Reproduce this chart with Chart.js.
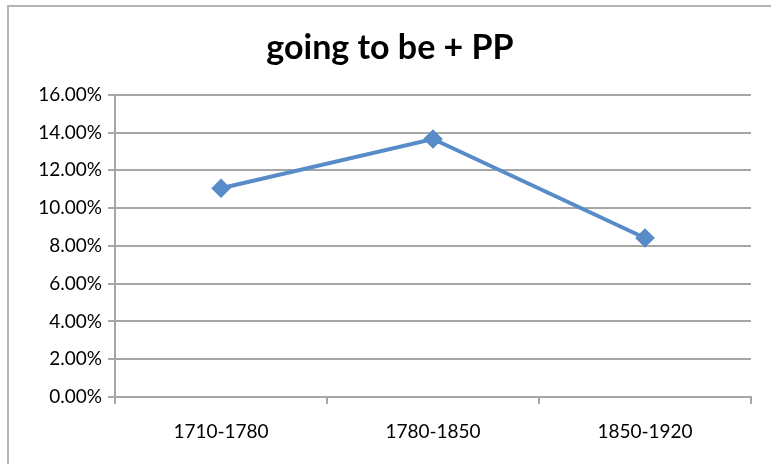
<!DOCTYPE html>
<html>
<head>
<meta charset="utf-8">
<script src="https://cdn.jsdelivr.net/npm/chart.js@4"></script>
<style>
  html, body { margin: 0; padding: 0; background: #fff; overflow: hidden; }
  #wrap { position: relative; width: 771px; height: 464px; }
  #frame {
    position: absolute; left: 7px; top: 5px; width: 820px; height: 520px;
    border: 2px solid #b4b4b4; box-sizing: border-box;
  }
  canvas { position: absolute; left: 0; top: 0; }
</style>
</head>
<body>
<div id="wrap">
  <div id="frame"></div>
  <canvas id="lineChart" width="771" height="464"></canvas>
</div>
<script>
const periods = ['1710-1780', '1780-1850', '1850-1920'];
const shares = [0.1105, 0.1366, 0.0842];
const yTicks = [0, 0.02, 0.04, 0.06, 0.08, 0.10, 0.12, 0.14, 0.16];

const lineBlue = '#588cc9';
const gridGrey = '#a6a6a6';
const fontFam = 'Lato, "Open Sans", sans-serif';

const ctx = document.getElementById('lineChart').getContext('2d');
new Chart(ctx, {
  type: 'line',
  data: {
    labels: periods,
    datasets: [{
      label: 'going to be + PP',
      data: shares,
      borderColor: lineBlue,
      backgroundColor: lineBlue,
      borderWidth: 4,
      pointStyle: 'rectRot',
      pointRadius: 7,
      pointHoverRadius: 7,
      tension: 0
    }]
  },
  options: {
    responsive: false,
    animation: false,
    // left padding shifts the title centre to match the frame
    layout: { padding: { left: 29, right: 20, top: 0, bottom: 0 } },
    plugins: {
      legend: { display: false },
      tooltip: { enabled: false },
      title: {
        display: true,
        text: 'going to be + PP',
        color: '#000',
        font: { family: fontFam, size: 34, weight: 'bold' },
        padding: { top: 28, bottom: 26 }
      }
    },
    scales: {
      x: {
        offset: true,
        grid: {
          offset: true,
          drawOnChartArea: false,
          drawTicks: true,
          tickLength: 7,
          color: gridGrey,
          lineWidth: 2
        },
        border: { display: true, color: gridGrey, width: 2 },
        ticks: {
          color: '#000',
          padding: 16,
          font: { family: fontFam, size: 19 }
        },
        afterFit: scale => { scale.height = 67; }
      },
      y: {
        min: 0,
        max: 0.16,
        afterBuildTicks: scale => { scale.ticks = yTicks.map(v => ({ value: v })); },
        grid: {
          color: gridGrey,
          lineWidth: 2,
          tickLength: 7
        },
        border: { display: true, color: gridGrey, width: 2 },
        ticks: {
          color: '#000',
          padding: 6,
          font: { family: fontFam, size: 19 },
          callback: v => (v * 100).toFixed(2) + '%'
        },
        afterFit: scale => { scale.width = 86; }
      }
    }
  }
});
</script>
</body>
</html>
